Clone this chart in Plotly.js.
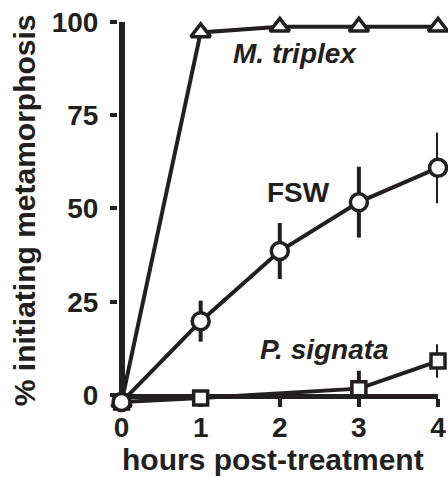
<!DOCTYPE html>
<html>
<head>
<meta charset="utf-8">
<script src="https://cdn.plot.ly/plotly-3.0.1.min.js"></script>
<style>
html, body { margin: 0; padding: 0; background: #ffffff; }
#chart { width: 448px; height: 477px; }
</style>
</head>
<body>
<div id="chart"></div>
<script>
// ---- data ----
const hours = [0, 1, 2, 3, 4];
const tripHours = [0, 1, 2, 3, 4];
const tripValues = [-1.9, 97.2, 98.7, 98.7, 98.7];
const fswHours = [0, 1, 2, 3, 4];
const fswValues = [-1.9, 19.8, 38.6, 51.7, 60.9];
const fswErrors = [0, 5.5, 7.5, 9.5, 9.5];
const sigHours = [0, 1, 3, 4];
const sigValues = [-1.9, -0.8, 1.7, 9.1];
const sigErrors = [0, 0, 4.8, 4.5];
const yTicks = [0, 25, 50, 75, 100];
const xTickLabels = ['0', '1', '2', '3', '4'];
const seriesNames = ['M. triplex', 'FSW', 'P. signata'];
const xTitle = 'hours post-treatment';
const yTitle = '% initiating metamorphosis';

const INK = '#231f20';
const FONT = 'Liberation Sans, Arial, Helvetica, sans-serif';

function series(x, y, name, symbol, size, errs) {
  const t = {
    type: 'scatter', mode: 'lines+markers', name: name,
    x: x, y: y, cliponaxis: false,
    line: { color: INK, width: 4 },
    marker: { symbol: symbol, size: size, color: '#ffffff', line: { color: INK, width: 3.5 } }
  };
  if (errs) {
    t.error_y = { type: 'data', array: errs, visible: true, thickness: 4, width: 0, color: INK };
  }
  return t;
}

const data = [
  series(tripHours, tripValues, seriesNames[0], 'triangle-up', 17, null),
  series(sigHours, sigValues, seriesNames[2], 'square', 14, sigErrors),
  series(fswHours, fswValues, seriesNames[1], 'circle', 17, fswErrors)
];

const titleFont = { family: FONT, size: 30, color: INK, weight: 'bold' };
const labelFont = { family: FONT, size: 28, color: INK, weight: 'bold' };
const italicLabelFont = { family: FONT, size: 28, color: INK, weight: 'bold', style: 'italic' };

const layout = {
  width: 448, height: 477,
  margin: { l: 118, r: 10, t: 22, b: 69, pad: 0 },
  paper_bgcolor: '#ffffff', plot_bgcolor: '#ffffff',
  showlegend: false,
  font: { family: FONT, color: INK, size: 28, weight: 'bold' },
  xaxis: {
    range: [-0.045, 4], tickvals: hours, ticktext: xTickLabels,
    anchor: 'free', position: 0.0298,
    showgrid: false,
    zeroline: true, zerolinecolor: INK, zerolinewidth: 6,
    showline: true, linecolor: INK, linewidth: 5, layer: 'below traces',
    ticks: 'outside', ticklen: 8, tickwidth: 4, tickcolor: INK,
    ticklabelstandoff: -4,
    tickfont: { family: FONT, size: 28, color: INK, weight: 'bold' }
  },
  yaxis: {
    range: [-3.49, 100], tickvals: yTicks,
    showgrid: false, zeroline: false,
    showline: false, layer: 'below traces',
    ticks: 'outside', ticklen: 7, tickwidth: 4, tickcolor: INK,
    ticklabelstandoff: 6,
    tickfont: { family: FONT, size: 28, color: INK, weight: 'bold' }
  },
  annotations: [
    { text: xTitle, x: 0.485, y: -0.134, xref: 'paper', yref: 'paper', showarrow: false,
      xanchor: 'center', yanchor: 'middle', font: titleFont },
    { text: yTitle, x: -0.29, y: 0.513, xref: 'paper', yref: 'paper', showarrow: false,
      xanchor: 'center', yanchor: 'middle', textangle: -90, font: titleFont },
    { text: seriesNames[0], x: 2.19, y: 91.5, xref: 'x', yref: 'y', showarrow: false,
      xanchor: 'center', yanchor: 'middle', font: italicLabelFont },
    { text: seriesNames[1], x: 2.24, y: 54.4, xref: 'x', yref: 'y', showarrow: false,
      xanchor: 'center', yanchor: 'middle', font: labelFont },
    { text: seriesNames[2], x: 2.57, y: 12.3, xref: 'x', yref: 'y', showarrow: false,
      xanchor: 'center', yanchor: 'middle', font: italicLabelFont }
  ]
};

Plotly.newPlot('chart', data, layout, { displayModeBar: false, staticPlot: true });
</script>
</body>
</html>
